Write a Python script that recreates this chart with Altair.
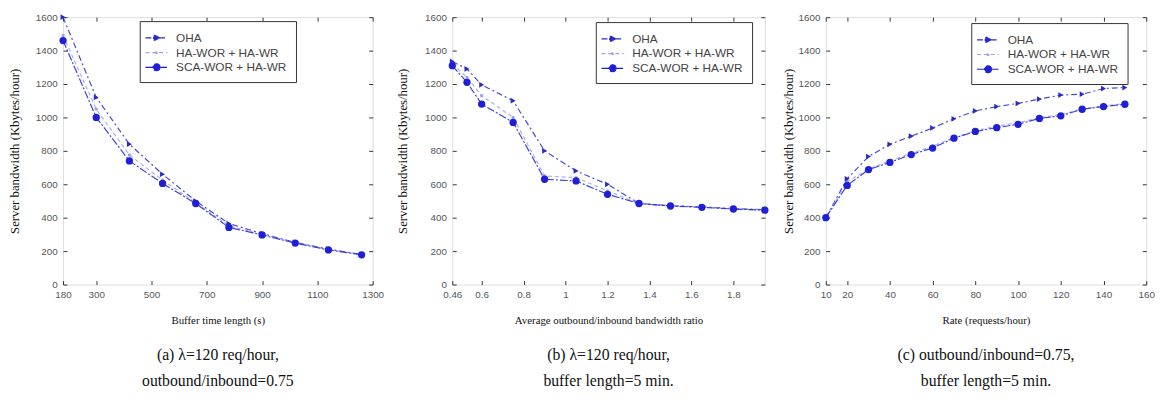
import altair as alt
import pandas as pd

series = ["OHA", "HA-WOR + HA-WR", "SCA-WOR + HA-WR"]
colors = ["#2a2ac4", "#a0a0f2", "#1f1fd6"]
dashes = [[6, 3, 2, 3], [4, 3], [8, 2, 2, 2]]
marker_shapes = ["triangle-right", "circle", "circle"]
marker_sizes = [34, 12, 55]
legend_paths = [
    "M-1.6,0H1.6M0.45,0L-0.4,-0.45L-0.4,0.45Z",
    "M-1.6,0H1.6M0.15,0A0.15,0.15,0,1,1,-0.15,0A0.15,0.15,0,1,1,0.15,0Z",
    "M-1.6,0H1.6M0.5,0A0.5,0.5,0,1,1,-0.5,0A0.5,0.5,0,1,1,0.5,0Z",
]

# Panel (a)
a_x = [180, 300, 420, 540, 660, 780, 900, 1020, 1140, 1260]
a_oha = [1600, 1120, 840, 660, 500, 365, 305, 252, 212, 180]
a_ha = [1490, 1050, 775, 625, 490, 352, 300, 250, 210, 180]
a_sca = [1460, 1000, 740, 605, 485, 342, 297, 248, 207, 178]
a_ticks = [180, 300, 500, 700, 900, 1100, 1300]

# Panel (b)
b_x = [0.46, 0.53, 0.6, 0.75, 0.9, 1.05, 1.2, 1.35, 1.5, 1.65, 1.8, 1.95]
b_oha = [1335, 1290, 1195, 1100, 800, 680, 600, 485, 472, 465, 455, 448]
b_ha = [1320, 1240, 1130, 1000, 650, 640, 560, 485, 470, 463, 453, 446]
b_sca = [1310, 1210, 1080, 970, 630, 620, 540, 485, 470, 462, 452, 445]
b_ticks = [0.46, 0.6, 0.8, 1, 1.2, 1.4, 1.6, 1.8]

# Panel (c)
c_x = [10, 20, 30, 40, 50, 60, 70, 80, 90, 100, 110, 120, 130, 140, 150]
c_oha = [400, 633, 766, 839, 888, 937, 992, 1039, 1065, 1084, 1110, 1134, 1139, 1173, 1179]
c_ha = [400, 615, 692, 740, 785, 828, 880, 920, 948, 968, 998, 1018, 1050, 1068, 1083]
c_sca = [400, 593, 688, 731, 778, 817, 876, 916, 939, 959, 994, 1010, 1049, 1065, 1079]
c_ticks = [10, 20, 40, 60, 80, 100, 120, 140, 160]

y_ticks = [0, 200, 400, 600, 800, 1000, 1200, 1400, 1600]

H = 272
SERIF = "Liberation Serif"
SANS = "Liberation Sans"
TICK = 4


def panel(xs, ys_list, xdomain, xticks, xfmt, xtitle, caption, width, lx, ly, ytp):
    rows = []
    for s, ys in zip(series, ys_list):
        for xv, yv in zip(xs, ys):
            rows.append({"x": xv, "y": yv, "series": s})
    df = pd.DataFrame(rows)
    base = alt.Chart(df)
    X = alt.X("x:Q", scale=alt.Scale(domain=xdomain, nice=False, zero=False),
              axis=alt.Axis(values=xticks, format=xfmt, title=xtitle,
                            ticks=False, domain=False,
                            grid=True, gridColor="#333", gridOpacity=1, gridWidth=1,
                            gridDash=[TICK, H - 2 * TICK, TICK, 3000],
                            labelFont=SANS, labelFontSize=10, labelColor="#555",
                            labelPadding=5, labelFlush=False,
                            titleFont=SERIF, titleFontSize=11, titleFontWeight="normal",
                            titleColor="#111", titlePadding=16))
    Y = alt.Y("y:Q", scale=alt.Scale(domain=[0, 1600], nice=False),
              axis=alt.Axis(values=y_ticks, format="d", title="Server bandwidth (Kbytes/hour)",
                            ticks=False, domain=False, grid=True, gridColor="#333",
                            gridOpacity=1, gridWidth=1,
                            gridDash=[TICK, width - 2 * TICK, TICK, 3000],
                            labelFont=SANS, labelFontSize=10, labelColor="#555",
                            labelPadding=6, labelFlush=False,
                            titleFont=SERIF, titleFontSize=13, titleFontWeight="normal",
                            titleColor="#111", titlePadding=ytp))
    layers = []
    for i, s in enumerate(series):
        sub = base.transform_filter(alt.datum.series == s)
        layers.append(sub.mark_line(strokeWidth=1.2, opacity=0.85).encode(
            x=X, y=Y, color=alt.value(colors[i]), strokeDash=alt.value(dashes[i])))
    for i in [1, 0, 2]:
        s = series[i]
        sub = base.transform_filter(alt.datum.series == s)
        layers.append(sub.mark_point(filled=True, opacity=1).encode(
            x=X, y=Y, color=alt.value(colors[i]), shape=alt.value(marker_shapes[i]),
            size=alt.value(marker_sizes[i])))
    leg = alt.Legend(orient="none", legendX=lx, legendY=ly, title=None,
                     direction="vertical", symbolSize=196, symbolStrokeWidth=1.2,
                     symbolOpacity=1, labelFont=SANS, labelFontSize=12,
                     labelColor="#444", labelOffset=12, rowPadding=1,
                     padding=9, strokeColor="#333", fillColor="white",
                     labelLimit=200)
    legend_layer = base.transform_filter("false").mark_point(filled=True).encode(
        stroke=alt.Stroke("series:N", scale=alt.Scale(domain=series, range=colors), legend=leg),
        fill=alt.Fill("series:N", scale=alt.Scale(domain=series, range=colors), legend=leg),
        shape=alt.Shape("series:N", scale=alt.Scale(domain=series, range=legend_paths), legend=leg),
        strokeDash=alt.StrokeDash("series:N", scale=alt.Scale(domain=series, range=dashes), legend=leg),
    )
    layers.append(legend_layer)
    return alt.layer(*layers).properties(
        width=width, height=H,
        title=alt.TitleParams(text=caption, orient="bottom", font=SERIF, fontSize=16,
                              fontWeight="normal", color="#111", lineHeight=26,
                              offset=22, anchor="middle"))


pa = panel(a_x, [a_oha, a_ha, a_sca], [180, 1300], a_ticks, "d", "Buffer time length (s)",
           ["(a) \u03bb=120 req/hour,", "outbound/inbound=0.75"], 315, 78, 4, 14)
pb = panel(b_x, [b_oha, b_ha, b_sca], [0.46, 1.95], b_ticks, "~g",
           "Average outbound/inbound bandwidth ratio",
           ["(b) \u03bb=120 req/hour,", "buffer length=5 min."], 318, 146, 5, 15)
pc = panel(c_x, [c_oha, c_ha, c_sca], [10, 160], c_ticks, "d", "Rate (requests/hour)",
           ["(c) outbound/inbound=0.75,", "buffer length=5 min."], 326, 148, 6, 3)

chart = alt.hconcat(pa, pb, pc, spacing=12).resolve_scale(
    stroke="independent", fill="independent", shape="independent", strokeDash="independent"
).resolve_legend(
    stroke="independent", fill="independent", shape="independent", strokeDash="independent"
).configure_view(stroke="#333", strokeWidth=1).configure(
    background="white", padding={"top": 0, "left": 0, "right": 5, "bottom": 0})

chart.save("out.html", embed_options={"renderer": "svg", "actions": False})
